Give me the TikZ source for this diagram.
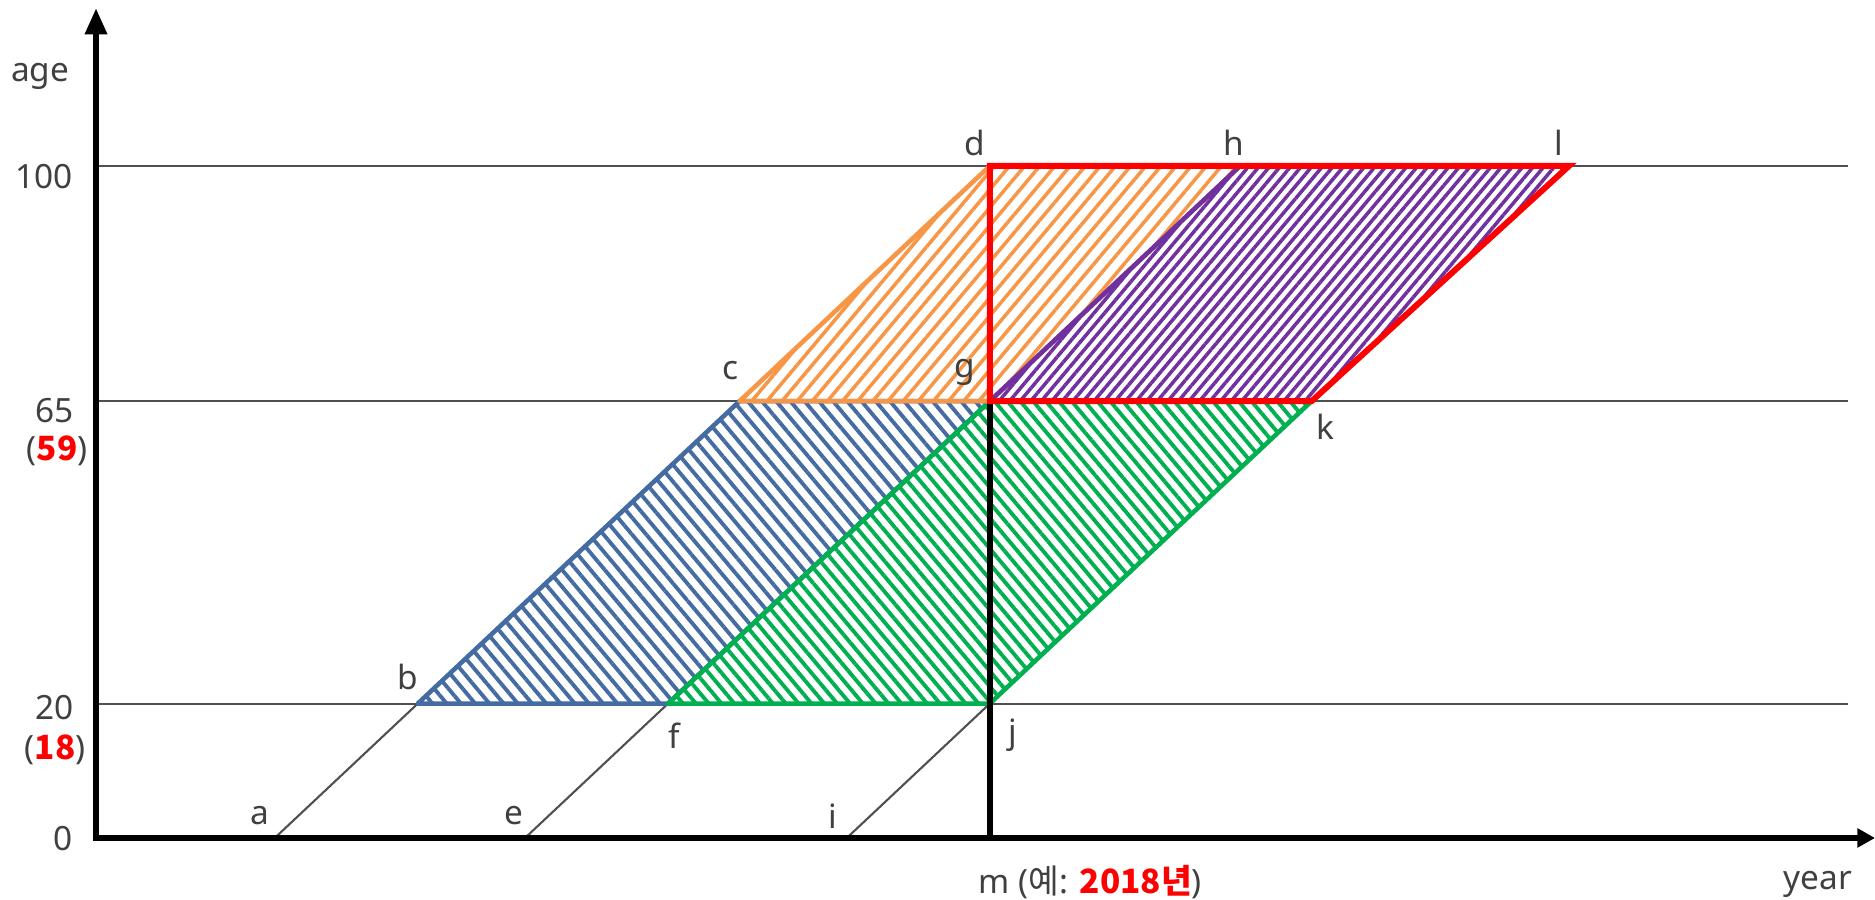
\documentclass[tikz,border=0pt]{standalone}
\usepackage{fontspec}
\setmainfont{Noto Sans}
\newfontfamily\krfont{Noto Sans CJK KR}
\usetikzlibrary{arrows.meta,patterns.meta,positioning}

\definecolor{lineblue}{RGB}{68,108,162}
\definecolor{lineorange}{RGB}{247,150,70}
\definecolor{linegreen}{RGB}{0,176,80}
\definecolor{linepurple}{RGB}{112,48,160}
\definecolor{linered}{RGB}{255,0,0}
\definecolor{gridgray}{RGB}{80,80,80}
\definecolor{textgray}{RGB}{64,64,64}

\begin{document}
\begin{tikzpicture}[x=0.0715cm, y=0.0672cm,
    font=\fontsize{9.5}{11}\selectfont,
    grid/.style={draw=gridgray, line width=0.6pt},
    axis/.style={draw=black, line width=1.8pt},
    area/.style={line width=1.3pt, line join=round, draw=#1, pattern color=#1},
    hatchne/.style={pattern={Lines[angle=50, distance=#1, line width=1pt]}},
    hatchnw/.style={pattern={Lines[angle=-50, distance=#1, line width=1.1pt]}},
    pt/.style={text=textgray, inner sep=0pt},
    tick/.style={text=textgray, inner sep=0pt}]

\useasboundingbox (-13.43,-9.23) rectangle (248.8,124.7);

\coordinate (o) at (0,0);
\coordinate (ytop) at (0,123.5);
\coordinate (xend) at (248.8,0);
\coordinate (a) at (25,0);
\coordinate (b) at (45,20);
\coordinate (c) at (90,65);
\coordinate (d) at (125,100);
\coordinate (e) at (60,0);
\coordinate (f) at (80,20);
\coordinate (g) at (125,65);
\coordinate (h) at (160,100);
\coordinate (i) at (105,0);
\coordinate (j) at (125,20);
\coordinate (k) at (170,65);
\coordinate (l) at (206,100);
\coordinate (m) at (125,0);

\foreach \yy in {20,65,100}
  \draw[grid] (0,\yy) -- (245,\yy);
\draw[grid] (a) -- (b);
\draw[grid] (e) -- (f);
\draw[grid] (i) -- (j);

\draw[area=lineblue, hatchnw=3.1pt] (b) -- (f) -- (g) -- (c) -- cycle;
\draw[area=linegreen, hatchnw=2.8pt] (f) -- (j) -- (k) -- (g) -- cycle;
\draw[area=lineorange, hatchne=3.3pt] (c) -- (g) -- (h) -- (d) -- cycle;
\draw[area=linepurple, hatchne=2.3pt] (g) -- (k) -- (l) -- (h) -- cycle;

\draw[axis] (m) -- (d);
\draw[draw=linered, line width=1.7pt, line join=miter] (d) -- (l) -- (k) -- (g) -- cycle;
\draw[axis, {Triangle[length=7.5pt,width=6pt]}-{Triangle[length=5pt,width=5.2pt]}] (ytop) -- (o) -- (xend);

\node[pt] (la) at ([shift={(-0.15cm,0.22cm)}]a) {a};
\node[pt] (le) at ([shift={(-0.11cm,0.22cm)}]e) {e};
\node[pt] (li) at ([shift={(-0.14cm,0.22cm)}]i) {i};
\node[pt] (lb) at ([shift={(-0.10cm,0.27cm)}]b) {b};
\node[pt] (lf) at ([shift={(0.06cm,-0.32cm)}]f) {f};
\node[pt] (lj) at ([shift={(0.23cm,-0.32cm)}]j) {j};
\node[pt] (lc) at ([shift={(-0.09cm,0.31cm)}]c) {c};
\node[pt] (lg) at ([shift={(-0.25cm,0.29cm)}]g) {g};
\node[pt] (lk) at ([shift={(0.14cm,-0.26cm)}]k) {k};
\node[pt] (ld) at ([shift={(-0.15cm,0.23cm)}]d) {d};
\node[pt] (lh) at ([shift={(-0.06cm,0.23cm)}]h) {h};
\node[pt] (ll) at ([shift={(-0.10cm,0.23cm)}]l) {l};

\node[tick] (yname) at (-7.8,113.4) {age};
\node[tick] (t100) at (-7.3,98.4) {100};
\node[tick] (t65) at (-5.8,63.6) {65};
\node[tick] (t59) at (-5.45,57.6) {(\textcolor{linered}{\krfont\bfseries 59})};
\node[tick] (t20) at (-5.8,19.4) {20};
\node[tick] (t18) at (-5.7,13.1) {(\textcolor{linered}{\krfont\bfseries 18})};
\node[tick] (t0) at (-4.55,-0.15) {0};
\node[tick] (xname) at (240.8,-6.85) {year};
\node[tick, anchor=west] (mname) at (123.35,-6.5) {m ({\krfont 예}: \textcolor{linered}{\krfont\bfseries 2018년})};

\end{tikzpicture}
\end{document}
